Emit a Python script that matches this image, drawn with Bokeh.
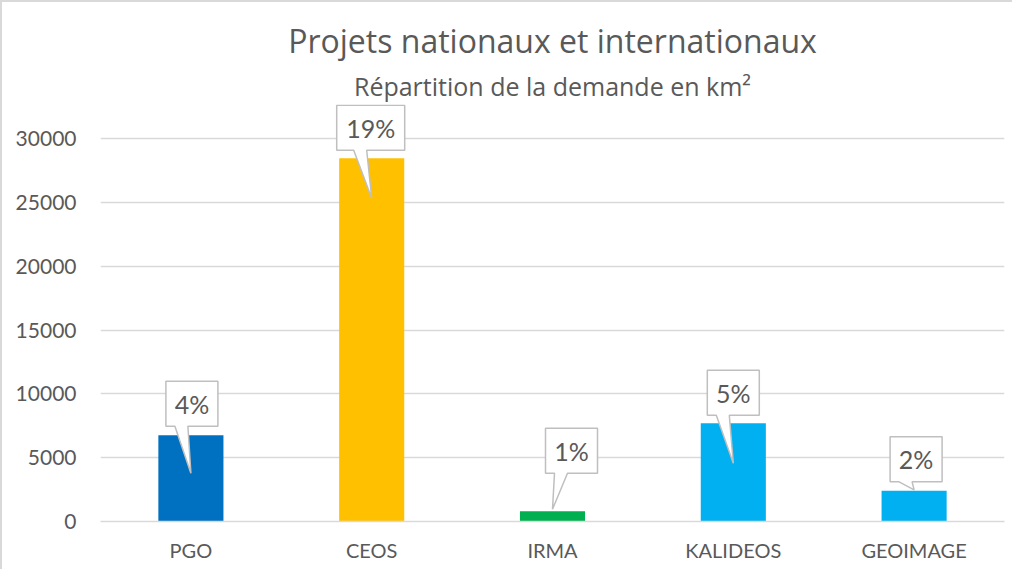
from bokeh.plotting import figure
from bokeh.models import FactorRange, Range1d, FixedTicker, Title, ColumnDataSource
from bokeh.embed import file_html
from bokeh.resources import INLINE
from bokeh.core.properties import value

# ---------------- data ----------------
categories = ["PGO", "CEOS", "IRMA", "KALIDEOS", "GEOIMAGE"]
demand_km2 = [6750, 28450, 800, 7700, 2400]
share_labels = ["4%", "19%", "1%", "5%", "2%"]
bar_colors = ["#0070C0", "#FFC000", "#00B050", "#00B0F0", "#00B0F0"]
y_ticks = [0, 5000, 10000, 15000, 20000, 25000, 30000]

title_text = "Projets nationaux et internationaux"
subtitle_text = "Répartition de la demande en km²"

# ---------------- layout / style ----------------
W, H = 1012, 569
B_LEFT, B_RIGHT, B_TOP, B_BOTTOM = 98, 10, 102, 50
FRAME_W = W - B_LEFT - B_RIGHT
FRAME_H = H - B_TOP - B_BOTTOM
PX_Y = 30000 / 383.0              # data units per pixel (vertical)
PX_X = len(categories) / FRAME_W  # synthetic units per pixel (horizontal)
Y_END = FRAME_H * PX_Y

TEXT = "#595959"
GRID = "#D9D9D9"
FONT = "Lato"
TITLE_FONT = "Open Sans"

# callout placement offsets in pixels (box centre shift, gap above bar top, tail tip below bar top)
callout_dx = [1, -1, 19, 0, 2]
callout_gap = [9, 8, 38, 8, 9]
tip_below = [38, 40, -2, 40, -1]
BOX_H = 45

p = figure(
    x_range=FactorRange(*categories, range_padding=0),
    y_range=Range1d(0, Y_END),
    width=W, height=H,
    output_backend="svg", toolbar_location=None,
    min_border_left=B_LEFT, min_border_right=B_RIGHT,
    min_border_top=B_TOP, min_border_bottom=B_BOTTOM,
    outline_line_color=None,
    styles={"border-top": "2px solid #D9D9D9", "border-left": "2px solid #D9D9D9"},
)

p.title.text = title_text
p.title.text_font = TITLE_FONT
p.title.text_font_size = "32px"
p.title.text_font_style = "normal"
p.title.text_color = TEXT
p.title.align = "center"
p.title.standoff = 5
p.add_layout(Title(text=subtitle_text, text_font=TITLE_FONT, text_font_size="25px",
                   text_font_style="normal", text_color=TEXT, align="center",
                   standoff=4), "above")

# bars
src = ColumnDataSource(dict(cat=categories, val=demand_km2, col=bar_colors))
p.vbar(x="cat", top="val", width=0.36, fill_color="col", line_color=None, source=src)

# callouts
xs, ys, tx, ty = [], [], [], []
for i, (v, lab) in enumerate(zip(demand_km2, share_labels)):
    xc = i + 0.5
    cx = xc + callout_dx[i] * PX_X
    bb = v + callout_gap[i] * PX_Y
    bt = bb + BOX_H * PX_Y
    hw = (16 * len(lab) + 20) / 2 * PX_X
    tipx = xc
    tipy = v - tip_below[i] * PX_Y
    bl = cx - 17 * PX_X
    br = cx - 4 * PX_X
    xs.append([cx - hw, cx + hw, cx + hw, br, tipx, bl, cx - hw])
    ys.append([bt, bt, bb, bb, tipy, bb, bb])
    tx.append(cx)
    ty.append(bb + BOX_H / 2 * PX_Y)

p.patches(xs, ys, fill_color="white", line_color="#BFBFBF", line_width=1.5)
p.text(x=tx, y=ty, text=share_labels, text_align="center", text_baseline="middle",
       text_font=value(FONT), text_font_size="25px", text_color=TEXT)

# axes
p.yaxis.ticker = FixedTicker(ticks=y_ticks)
p.yaxis.axis_line_color = None
p.yaxis.major_tick_line_color = None
p.yaxis.minor_tick_line_color = None
p.yaxis.major_tick_out = 0
p.yaxis.major_label_standoff = 24
p.yaxis.major_label_text_font = FONT
p.yaxis.major_label_text_font_size = "21px"
p.yaxis.major_label_text_color = TEXT

p.xaxis.axis_line_color = GRID
p.xaxis.axis_line_width = 1.5
p.xaxis.major_tick_line_color = None
p.xaxis.major_tick_out = 0
p.xaxis.major_label_standoff = 16
p.xaxis.major_label_text_font = FONT
p.xaxis.major_label_text_font_size = "20px"
p.xaxis.major_label_text_color = TEXT

p.xgrid.grid_line_color = None
p.ygrid.grid_line_color = GRID
p.ygrid.grid_line_width = 1.3

open("out.html", "w").write(file_html(p, INLINE))
